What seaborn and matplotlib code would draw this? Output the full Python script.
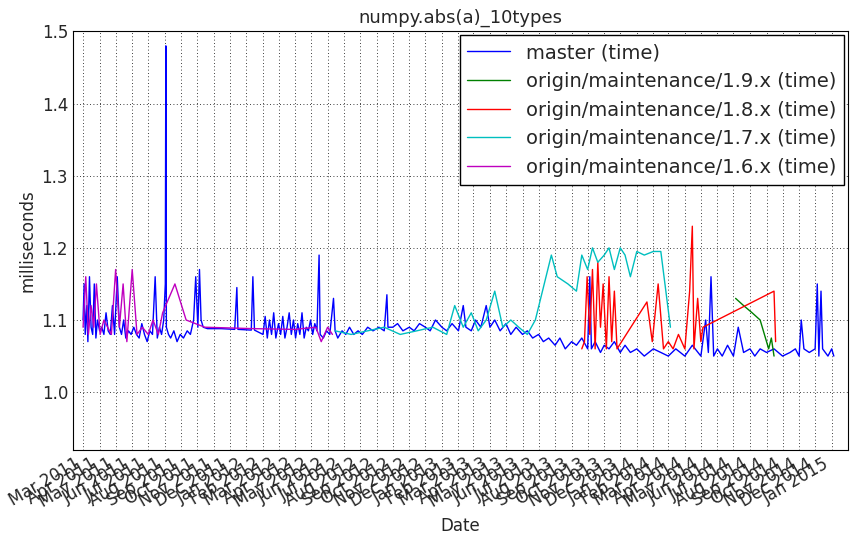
import matplotlib
matplotlib.use("Agg")
import matplotlib.pyplot as plt
import matplotlib.dates as mdates
import seaborn as sns
import pandas as pd

master_dates = ["2011-03-01","2011-03-03","2011-03-05","2011-03-08","2011-03-10","2011-03-13","2011-03-16","2011-03-19","2011-03-22","2011-03-25","2011-03-28","2011-04-01","2011-04-05","2011-04-09","2011-04-13","2011-04-17","2011-04-21","2011-04-25","2011-04-29","2011-05-04","2011-05-08","2011-05-12","2011-05-16","2011-05-20","2011-05-25","2011-05-30","2011-06-04","2011-06-09","2011-06-14","2011-06-19","2011-06-24","2011-06-29","2011-07-04","2011-07-09","2011-07-14","2011-07-18","2011-07-22","2011-07-26","2011-07-30","2011-08-02","2011-08-03","2011-08-04","2011-08-08","2011-08-12","2011-08-18","2011-08-24","2011-08-30","2011-09-05","2011-09-12","2011-09-18","2011-09-24","2011-09-28","2011-10-02","2011-10-05","2011-10-08","2011-10-12","2011-10-20","2011-11-15","2011-12-10","2011-12-14","2011-12-16","2012-01-10","2012-01-13","2012-01-16","2012-02-01","2012-02-05","2012-02-09","2012-02-13","2012-02-17","2012-02-21","2012-02-25","2012-03-01","2012-03-05","2012-03-09","2012-03-13","2012-03-17","2012-03-21","2012-03-25","2012-03-29","2012-04-02","2012-04-06","2012-04-10","2012-04-14","2012-04-18","2012-04-22","2012-04-26","2012-04-30","2012-05-04","2012-05-08","2012-05-12","2012-05-16","2012-05-18","2012-05-24","2012-05-30","2012-06-05","2012-06-12","2012-06-15","2012-06-20","2012-06-28","2012-07-05","2012-07-12","2012-07-20","2012-07-28","2012-08-05","2012-08-15","2012-08-25","2012-09-05","2012-09-15","2012-09-20","2012-09-22","2012-10-01","2012-10-10","2012-10-20","2012-11-01","2012-11-10","2012-11-20","2012-12-01","2012-12-10","2012-12-20","2013-01-01","2013-01-10","2013-01-20","2013-02-01","2013-02-10","2013-02-15","2013-02-25","2013-03-05","2013-03-15","2013-03-25","2013-04-01","2013-04-10","2013-04-20","2013-05-01","2013-05-10","2013-05-20","2013-06-01","2013-06-10","2013-06-20","2013-07-01","2013-07-10","2013-07-20","2013-08-01","2013-08-10","2013-08-20","2013-09-01","2013-09-10","2013-09-20","2013-10-01","2013-10-05","2013-10-08","2013-10-15","2013-10-25","2013-11-01","2013-11-10","2013-11-20","2013-12-01","2013-12-10","2013-12-20","2014-01-01","2014-01-15","2014-02-01","2014-02-15","2014-03-01","2014-03-15","2014-04-01","2014-04-15","2014-05-01","2014-05-10","2014-05-15","2014-05-20","2014-05-25","2014-06-01","2014-06-10","2014-06-20","2014-07-01","2014-07-10","2014-07-20","2014-08-01","2014-08-10","2014-08-20","2014-09-01","2014-09-15","2014-10-01","2014-10-15","2014-10-25","2014-11-01","2014-11-05","2014-11-10","2014-11-20","2014-12-01","2014-12-05","2014-12-08","2014-12-12","2014-12-15","2014-12-25","2015-01-01","2015-01-05"]
master_vals = [1.10,1.15,1.08,1.12,1.07,1.16,1.09,1.08,1.15,1.075,1.10,1.085,1.09,1.08,1.11,1.085,1.08,1.12,1.08,1.16,1.09,1.08,1.10,1.075,1.085,1.08,1.09,1.08,1.075,1.095,1.08,1.07,1.085,1.08,1.16,1.075,1.09,1.08,1.10,1.15,1.48,1.09,1.08,1.075,1.085,1.07,1.08,1.075,1.085,1.08,1.10,1.16,1.09,1.17,1.10,1.09,1.088,1.088,1.087,1.145,1.087,1.086,1.16,1.086,1.08,1.105,1.075,1.10,1.08,1.11,1.075,1.095,1.08,1.105,1.075,1.09,1.11,1.08,1.10,1.075,1.095,1.08,1.11,1.075,1.09,1.085,1.10,1.08,1.095,1.085,1.19,1.08,1.075,1.085,1.08,1.13,1.085,1.075,1.085,1.08,1.09,1.08,1.085,1.08,1.09,1.085,1.09,1.085,1.135,1.09,1.09,1.095,1.085,1.09,1.085,1.095,1.09,1.085,1.10,1.09,1.085,1.095,1.085,1.12,1.09,1.085,1.10,1.09,1.12,1.09,1.10,1.085,1.095,1.08,1.09,1.08,1.085,1.075,1.08,1.07,1.075,1.065,1.075,1.06,1.07,1.065,1.075,1.06,1.16,1.06,1.07,1.055,1.065,1.06,1.07,1.055,1.065,1.055,1.06,1.05,1.06,1.055,1.05,1.06,1.05,1.065,1.05,1.10,1.055,1.16,1.05,1.06,1.05,1.065,1.05,1.09,1.055,1.06,1.05,1.06,1.055,1.06,1.05,1.055,1.06,1.05,1.10,1.06,1.055,1.06,1.15,1.05,1.14,1.06,1.05,1.06,1.05]

m19_dates = ["2014-07-05","2014-07-20","2014-08-05","2014-08-20","2014-09-01","2014-09-05","2014-09-10","2014-09-15"]
m19_vals = [1.13,1.12,1.11,1.10,1.07,1.06,1.075,1.05]

m18_dates = ["2013-09-20","2013-09-25","2013-09-30","2013-10-05","2013-10-10","2013-10-15","2013-10-20","2013-10-25","2013-10-30","2013-11-05","2013-11-10","2013-11-15","2013-11-20","2013-11-25","2014-01-20","2014-01-30","2014-02-10","2014-02-20","2014-03-01","2014-03-10","2014-03-20","2014-04-01","2014-04-10","2014-04-15","2014-04-18","2014-04-25","2014-05-01","2014-05-05","2014-09-15","2014-09-18"]
m18_vals = [1.06,1.07,1.16,1.08,1.17,1.06,1.18,1.09,1.15,1.06,1.16,1.07,1.14,1.06,1.125,1.07,1.15,1.06,1.07,1.06,1.08,1.06,1.14,1.23,1.06,1.13,1.07,1.09,1.14,1.07]

m17_dates = ["2012-06-15","2012-07-15","2012-08-15","2012-09-15","2012-10-15","2012-11-15","2012-12-15","2013-01-10","2013-01-25","2013-02-10","2013-02-25","2013-03-10","2013-03-25","2013-04-10","2013-04-25","2013-05-10","2013-05-25","2013-06-10","2013-06-25","2013-07-25","2013-08-05","2013-08-25","2013-09-10","2013-09-20","2013-10-01","2013-10-10","2013-10-20","2013-11-01","2013-11-10","2013-11-20","2013-12-01","2013-12-10","2013-12-20","2014-01-01","2014-01-15","2014-02-01","2014-02-15","2014-03-05"]
m17_vals = [1.085,1.08,1.085,1.09,1.08,1.085,1.09,1.08,1.12,1.09,1.11,1.085,1.10,1.14,1.09,1.10,1.09,1.08,1.10,1.19,1.16,1.15,1.14,1.19,1.17,1.20,1.18,1.19,1.20,1.17,1.20,1.19,1.16,1.195,1.19,1.195,1.195,1.09]

m16_dates = ["2011-03-01","2011-03-06","2011-03-11","2011-03-16","2011-03-21","2011-03-26","2011-04-02","2011-04-09","2011-04-16","2011-04-23","2011-05-01","2011-05-08","2011-05-15","2011-05-22","2011-06-01","2011-06-10","2011-06-20","2011-07-01","2011-07-10","2011-07-20","2011-07-28","2011-08-20","2011-09-10","2011-10-15","2012-01-15","2012-04-01","2012-05-10","2012-05-20","2012-06-01","2012-06-10"]
m16_vals = [1.09,1.16,1.08,1.12,1.09,1.15,1.08,1.10,1.09,1.08,1.17,1.09,1.15,1.07,1.17,1.08,1.09,1.08,1.10,1.08,1.11,1.15,1.10,1.09,1.088,1.087,1.09,1.07,1.09,1.08]

series = [
    ("master (time)", master_dates, master_vals, "b"),
    ("origin/maintenance/1.9.x (time)", m19_dates, m19_vals, "g"),
    ("origin/maintenance/1.8.x (time)", m18_dates, m18_vals, "r"),
    ("origin/maintenance/1.7.x (time)", m17_dates, m17_vals, "c"),
    ("origin/maintenance/1.6.x (time)", m16_dates, m16_vals, "m"),
]

sns.set_style("white")
plt.rcParams["font.family"] = ["DejaVu Sans"]
fig, ax = plt.subplots(figsize=(8.58, 5.42), dpi=100)
for name, d, v, c in series:
    df = pd.DataFrame({"date": pd.to_datetime(d), "val": v})
    sns.lineplot(data=df, x="date", y="val", ax=ax, color=c, label=name, linewidth=1, estimator=None)

ax.set_xlim(pd.Timestamp("2011-02-10"), pd.Timestamp("2015-01-31"))
ax.set_ylim(0.92, 1.5)
ax.set_yticks([1.0, 1.1, 1.2, 1.3, 1.4, 1.5])
ax.xaxis.set_major_locator(mdates.MonthLocator())
ax.xaxis.set_major_formatter(mdates.DateFormatter("%b %Y"))
ax.grid(True, color="black", linestyle=(0, (1, 3)), linewidth=0.6)
for s in ax.spines.values():
    s.set_color("black")
ax.tick_params(direction="in", labelsize=12, length=4, color="black")
plt.setp(ax.get_xticklabels(), rotation=30, ha="right")
ax.set_title("numpy.abs(a)_10types", fontsize=13)
ax.set_xlabel("Date", fontsize=12)
ax.set_ylabel("milliseconds", fontsize=12)
leg = ax.legend(loc="upper right", fontsize=14, frameon=True, fancybox=False, handlelength=2.2, borderaxespad=0.2)
leg.get_frame().set_edgecolor("black")
leg.get_frame().set_alpha(1)
plt.subplots_adjust(left=0.085, right=0.988, top=0.942, bottom=0.17)
fig.savefig("out.png", dpi=100)
